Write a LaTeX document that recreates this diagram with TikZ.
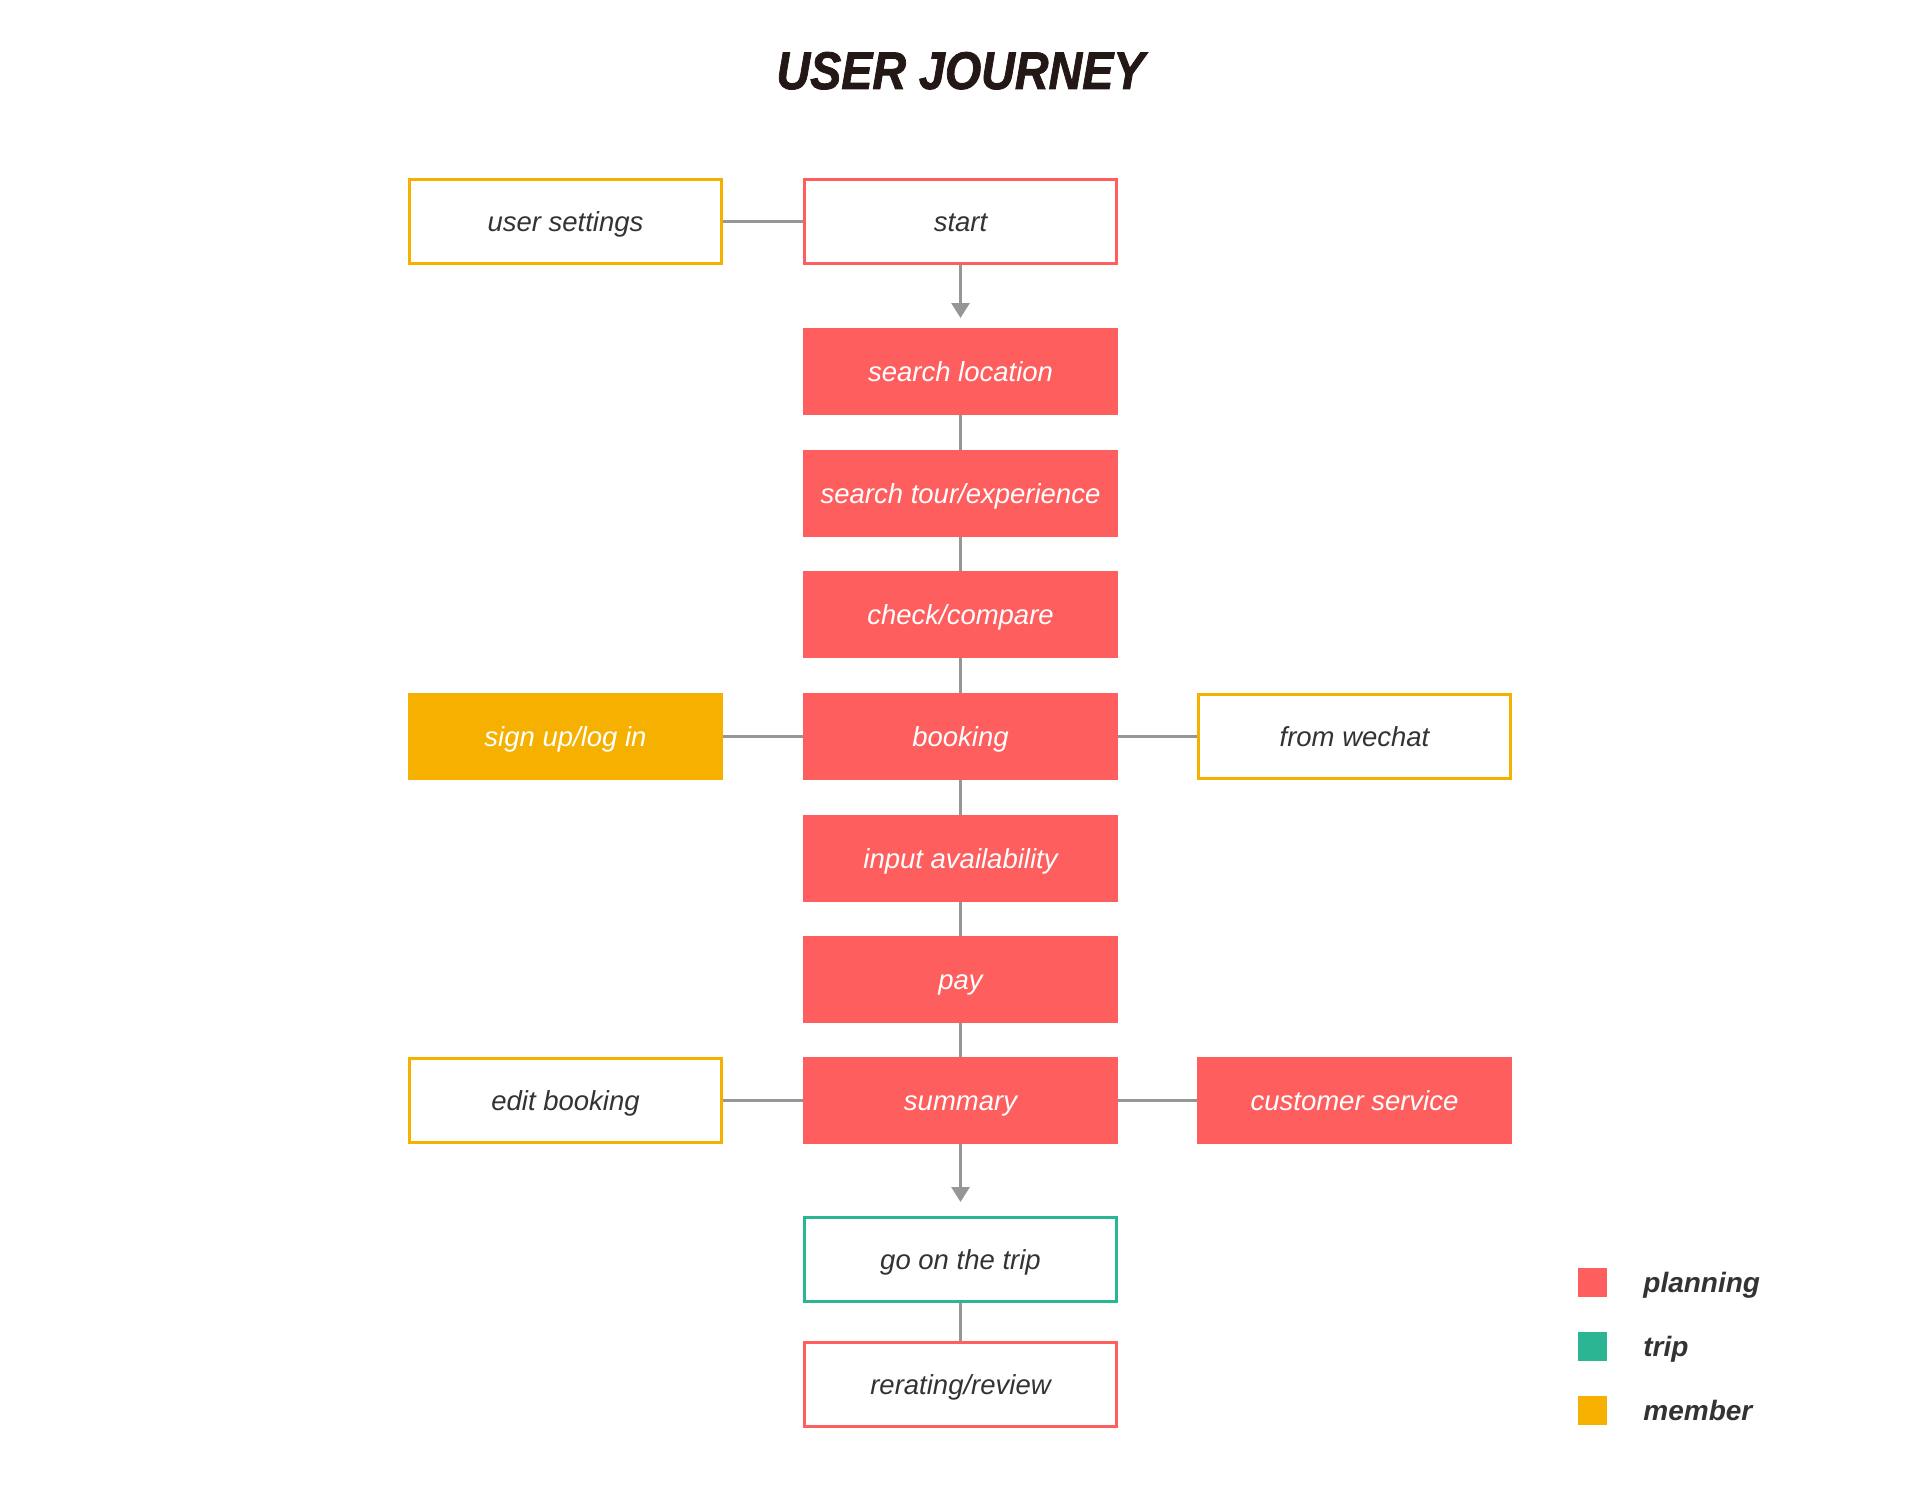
\documentclass[tikz,border=0pt]{standalone}
\usepackage{fontspec}
\setmainfont{Liberation Sans}
\newfontfamily\jtitlefont[UprightFont=* Bold Italic, FakeBold=1.6]{Liberation Sans}
\usetikzlibrary{arrows.meta}
\definecolor{pred}{RGB}{255,94,94}
\definecolor{tgreen}{RGB}{43,181,146}
\definecolor{morange}{RGB}{245,176,0}
\definecolor{cgray}{RGB}{150,150,150}
\definecolor{txtdark}{RGB}{51,51,51}
\definecolor{titlec}{RGB}{35,24,21}
\tikzset{
  box/.style={rectangle, minimum width=156pt, minimum height=42pt, inner sep=0pt, line width=1.5pt, font=\fontsize{13.75}{16}\selectfont\itshape, text height=9.85pt, text depth=0pt},
  redfill/.style={box, fill=pred, draw=pred, text=white},
  redline/.style={box, fill=white, draw=pred, text=txtdark},
  greenline/.style={box, fill=white, draw=tgreen, text=txtdark},
  orangeline/.style={box, fill=white, draw=morange, text=txtdark},
  orangefill/.style={box, fill=morange, draw=morange, text=white},
  conn/.style={draw=cgray, line width=1.5pt},
  arr/.style={conn, -{Triangle[width=9pt,length=7.5pt]}},
  legsq/.style={rectangle, minimum size=14.5pt, inner sep=0pt},
  legtxt/.style={anchor=west, inner sep=0pt, text=txtdark, font=\fontsize{14}{16}\selectfont\bfseries\itshape, text height=10pt, text depth=0pt}
}
\begin{document}
\begin{tikzpicture}[x=0.5pt,y=-0.5pt]
\useasboundingbox (0,0) rectangle (1921,1487);
\node[font=\fontsize{26.5}{30}\selectfont\jtitlefont, text=titlec, inner sep=0pt, text height=19pt, text depth=0pt] (title) at (960.5,70) {\scalebox{0.88}[1]{USER JOURNEY}};
% center column
\node[redline] (start) at (960.5,221.5) {start};
\node[redfill] (sloc) at (960.5,371.5) {search location};
\node[redfill] (stour) at (960.5,493.5) {search tour/experience};
\node[redfill] (check) at (960.5,614.5) {check/compare};
\node[redfill] (book) at (960.5,736.5) {booking};
\node[redfill] (input) at (960.5,858.5) {input availability};
\node[redfill] (pay) at (960.5,979.5) {pay};
\node[redfill] (summ) at (960.5,1100.5) {summary};
\node[greenline] (trip) at (960.5,1259.5) {go on the trip};
\node[redline] (rate) at (960.5,1384.5) {rerating/review};
% side columns
\node[orangeline] (uset) at (565.5,221.5) {user settings};
\node[orangefill] (sign) at (565.5,736.5) {sign up/log in};
\node[orangeline] (edit) at (565.5,1100.5) {edit booking};
\node[orangeline] (wechat) at (1354.5,736.5) {from wechat};
\node[redfill] (cserv) at (1354.5,1100.5) {customer service};
% connectors
\coordinate (a1) at (960.5,318);
\coordinate (a2) at (960.5,1202);
\draw[arr] (start.south) -- (a1);
\draw[conn] (sloc) -- (stour);
\draw[conn] (stour) -- (check);
\draw[conn] (check) -- (book);
\draw[conn] (book) -- (input);
\draw[conn] (input) -- (pay);
\draw[conn] (pay) -- (summ);
\draw[arr] (summ.south) -- (a2);
\draw[conn] (trip) -- (rate);
\draw[conn] (uset) -- (start);
\draw[conn] (sign) -- (book);
\draw[conn] (book) -- (wechat);
\draw[conn] (edit) -- (summ);
\draw[conn] (summ) -- (cserv);
% legend
\node[legsq, fill=pred] (lg1) at (1592.5,1282) {};
\node[legsq, fill=tgreen] (lg2) at (1592.5,1346) {};
\node[legsq, fill=morange] (lg3) at (1592.5,1410) {};
\node[legtxt] (lt1) at (1643,1282) {planning};
\node[legtxt] (lt2) at (1643,1346) {trip};
\node[legtxt] (lt3) at (1643,1410) {member};
\end{tikzpicture}
\end{document}
